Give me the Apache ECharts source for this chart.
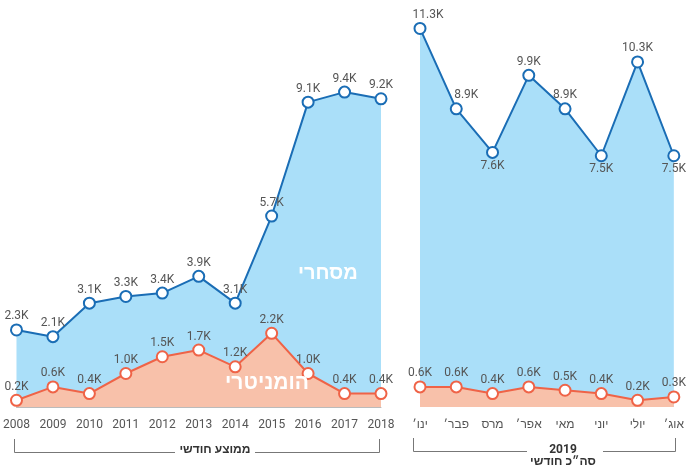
<!DOCTYPE html>
<html>
<head>
<meta charset="utf-8">
<script src="https://cdn.jsdelivr.net/npm/echarts@6/dist/echarts.min.js"></script>
<style>
  html, body { margin: 0; padding: 0; background: #fff; }
  #chart { width: 687px; height: 470px; }
</style>
</head>
<body>
<div id="chart"></div>
<script>
// yearly monthly average 2008-2018 (thousands)
var years = ['2008', '2009', '2010', '2011', '2012', '2013', '2014', '2015', '2016', '2017', '2018']
var commercialAvg = [2.3, 2.1, 3.1, 3.3, 3.4, 3.9, 3.1, 5.7, 9.1, 9.4, 9.2]
var humanitarianAvg = [0.2, 0.6, 0.4, 1.0, 1.5, 1.7, 1.2, 2.2, 1.0, 0.4, 0.4]

// monthly totals 2019 (thousands)
var months = ['ינו׳', 'פבר׳', 'מרס', 'אפר׳', 'מאי', 'יוני', 'יולי', 'אוג׳']
var commercial2019 = [11.3, 8.9, 7.6, 9.9, 8.9, 7.5, 10.3, 7.5]
var humanitarian2019 = [0.6, 0.6, 0.4, 0.6, 0.5, 0.4, 0.2, 0.3]

// label placement for the 2019 commercial line
var commercial2019Pos = ['top', 'top', 'bottom', 'top', 'top', 'bottom', 'top', 'bottom']
var commercial2019Off = [[8, 0], [10, 0], [0, 0], [0, 0], [0, 0], [0, 0], [0, 0], [0, 0]]

var BLUE = '#1a6db5'
var BLUE_AREA = '#aadff9'
var RED = '#ef6347'
var RED_AREA = '#f8c1aa'
var FONT = 'Roboto, "Liberation Sans", sans-serif'

var chart = echarts.init(document.getElementById('chart'))

function fmt(p) {
  return p.value.toFixed(1) + 'K'
}

function lineSeries(idx, data, color, area) {
  return {
    type: 'line',
    xAxisIndex: idx,
    yAxisIndex: idx,
    data: data,
    symbol: 'circle',
    symbolSize: 11,
    lineStyle: { color: color, width: 2 },
    itemStyle: { color: '#fff', borderColor: color, borderWidth: 2 },
    areaStyle: { color: area, opacity: 1 },
    label: {
      show: true,
      position: 'top',
      distance: 1,
      formatter: fmt,
      color: '#555',
      fontSize: 12,
      fontFamily: FONT
    },
    emphasis: { disabled: true },
    animation: false
  }
}

var blue2019 = commercial2019.map(function(v, i) {
  return { value: v, label: { position: commercial2019Pos[i], offset: commercial2019Off[i] } }
})

var xCommon = {
  type: 'category',
  boundaryGap: false,
  axisTick: { show: false },
  axisLabel: { color: '#555', fontSize: 12, fontFamily: FONT, margin: 12, interval: 0 }
}

chart.setOption({
  grid: [
    { left: 15, width: 366, top: 5, bottom: 63 },
    { left: 420, width: 256, top: 5, bottom: 63 }
  ],
  xAxis: [
    Object.assign({ gridIndex: 0, data: years, axisLine: { lineStyle: { color: '#bbb', width: 1 } } }, xCommon),
    Object.assign({ gridIndex: 1, data: months, axisLine: { show: false } }, xCommon)
  ],
  yAxis: [
    { gridIndex: 0, min: 0, max: 12, show: false },
    { gridIndex: 1, min: 0, max: 12, show: false }
  ],
  series: [
    lineSeries(0, commercialAvg, BLUE, BLUE_AREA),
    lineSeries(0, humanitarianAvg, RED, RED_AREA),
    lineSeries(1, blue2019, BLUE, BLUE_AREA),
    lineSeries(1, humanitarian2019, RED, RED_AREA)
  ],
  graphic: [
    { type: 'text', left: 298, top: 264, z: 100, style: { text: 'מסחרי', fill: '#fff', font: 'bold 20px ' + FONT } },
    { type: 'text', left: 225, top: 373, z: 100, style: { text: 'הומניטרי', fill: '#fff', font: 'bold 21px ' + FONT } },
    // left bracket
    { type: 'polyline', shape: { points: [[14.5, 439], [14.5, 452.5], [175, 452.5]] }, style: { stroke: '#777', lineWidth: 1, fill: null } },
    { type: 'polyline', shape: { points: [[255, 452.5], [379.5, 452.5], [379.5, 439]] }, style: { stroke: '#777', lineWidth: 1, fill: null } },
    { type: 'text', x: 215, y: 450, style: { text: 'ממוצע חודשי', fill: '#333', font: 'bold 12px ' + FONT, align: 'center', verticalAlign: 'middle' } },
    // right bracket
    { type: 'polyline', shape: { points: [[413.5, 438], [413.5, 451.5], [527, 451.5]] }, style: { stroke: '#777', lineWidth: 1, fill: null } },
    { type: 'polyline', shape: { points: [[603, 451.5], [675.5, 451.5], [675.5, 438]] }, style: { stroke: '#777', lineWidth: 1, fill: null } },
    { type: 'text', x: 563, y: 450, style: { text: '2019', fill: '#333', font: 'bold 12px ' + FONT, align: 'center', verticalAlign: 'middle' } },
    { type: 'text', x: 563, y: 462, style: { text: 'סה״כ חודשי', fill: '#333', font: 'bold 12px ' + FONT, align: 'center', verticalAlign: 'middle' } }
  ]
})
</script>
</body>
</html>
